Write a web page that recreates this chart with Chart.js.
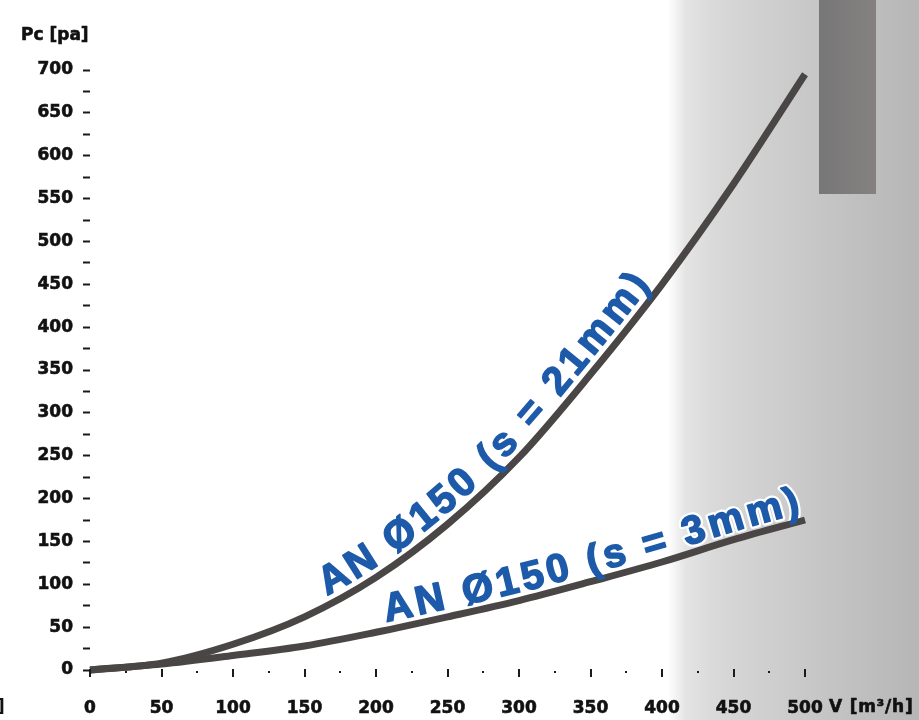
<!DOCTYPE html>
<html><head><meta charset="utf-8">
<script src="https://cdn.jsdelivr.net/npm/chart.js@4.4.0/dist/chart.umd.min.js"></script>
<style>html,body{margin:0;padding:0;background:#fff;overflow:hidden}</style></head>
<body><canvas id="c" width="919" height="720"></canvas>
<script>
// ---- data ----
const flowV = [0, 50, 100, 150, 200, 250, 300, 350, 400, 450, 500];      // V [m³/h]
const pcS21 = [0, 8, 30, 62, 108, 170, 248, 345, 450, 567, 695];         // AN Ø150 (s = 21mm)
const pcS3  = [0, 7, 17, 28, 44, 62, 81, 103, 126, 152, 175];            // AN Ø150 (s = 3mm)
const seriesNames = ['AN Ø150 (s = 21mm)', 'AN Ø150 (s = 3mm)'];
const labelStartV = [167, 208];     // where each curve label begins along its curve
const xTitle = 'V [m³/h]';
const yTitle = 'Pc [pa]';
const xMax = 500, yMax = 700, minorStep = 25, majorStep = 50;

const tickFont = {family: '"DejaVu Sans"', size: 17, weight: 'bold'};
const lineColor = '#4a4646';
const textBlue = '#1d5aa9';

function bezierPolyline(meta) {
  const pts = meta.data, out = [];
  for (let i = 0; i < pts.length - 1; i++) {
    const a = pts[i], b = pts[i + 1];
    const c1x = a.cp2x ?? a.x, c1y = a.cp2y ?? a.y, c2x = b.cp1x ?? b.x, c2y = b.cp1y ?? b.y;
    for (let k = 0; k < 24; k++) {
      const t = k / 24, u = 1 - t;
      out.push({
        x: u*u*u*a.x + 3*u*u*t*c1x + 3*u*t*t*c2x + t*t*t*b.x,
        y: u*u*u*a.y + 3*u*u*t*c1y + 3*u*t*t*c2y + t*t*t*b.y
      });
    }
  }
  const l = pts[pts.length - 1]; out.push({x: l.x, y: l.y});
  let s = 0; out[0].s = 0;
  for (let i = 1; i < out.length; i++) { s += Math.hypot(out[i].x - out[i-1].x, out[i].y - out[i-1].y); out[i].s = s; }
  return out;
}
function pointAt(poly, s) {
  if (s <= 0) return poly[0];
  for (let i = 1; i < poly.length; i++) {
    if (poly[i].s >= s) {
      const a = poly[i-1], b = poly[i], t = (s - a.s) / ((b.s - a.s) || 1);
      return {x: a.x + (b.x - a.x) * t, y: a.y + (b.y - a.y) * t};
    }
  }
  const a = poly[poly.length-2], b = poly[poly.length-1];
  const ex = s - b.s, L = Math.hypot(b.x-a.x, b.y-a.y) || 1;
  return {x: b.x + (b.x-a.x)/L*ex, y: b.y + (b.y-a.y)/L*ex};
}

const LABEL_FONT = 'bold 40px "Liberation Sans"';
function layoutGlyphs(chart) {
  const ctx = chart.ctx, xs = chart.scales.x;
  const offsets = [9, 8], spacing = 4, glyphs = [];
  ctx.save();
  ctx.font = LABEL_FONT;
  chart.data.datasets.forEach((ds, di) => {
    const poly = bezierPolyline(chart.getDatasetMeta(di));
    const sx = xs.getPixelForValue(labelStartV[di]);
    let cursor = 0;
    for (const p of poly) { if (p.x >= sx) { cursor = p.s; break; } }
    for (const ch of seriesNames[di]) {
      const w = ctx.measureText(ch).width;
      const mid = cursor + w / 2;
      const p = pointAt(poly, mid), p0 = pointAt(poly, mid - 10), p1 = pointAt(poly, mid + 10);
      const a = Math.atan2(p1.y - p0.y, p1.x - p0.x);
      glyphs.push({ch, x: p.x + Math.sin(a) * offsets[di], y: p.y - Math.cos(a) * offsets[di], a});
      cursor += w + spacing;
    }
  });
  ctx.restore();
  return glyphs;
}
function drawGlyphs(ctx, glyphs, mode) {
  ctx.save();
  ctx.font = LABEL_FONT;
  ctx.textAlign = 'center';
  ctx.textBaseline = 'alphabetic';
  ctx.lineJoin = 'round';
  if (mode === 'halo') { ctx.strokeStyle = '#fff'; ctx.lineWidth = 6; }
  else { ctx.fillStyle = textBlue; ctx.strokeStyle = textBlue; ctx.lineWidth = 1.6; }
  for (const g of glyphs) {
    ctx.save(); ctx.translate(g.x, g.y); ctx.rotate(g.a);
    if (mode !== 'halo') ctx.fillText(g.ch, 0, 0);
    ctx.strokeText(g.ch, 0, 0);
    ctx.restore();
  }
  ctx.restore();
}

const decor = {
  id: 'decor',
  beforeDraw(chart) {
    const ctx = chart.ctx, W = chart.width, H = chart.height;
    ctx.save();
    ctx.fillStyle = '#fff'; ctx.fillRect(0, 0, W, H);
    const g = ctx.createLinearGradient(668, 0, W, 0);
    g.addColorStop(0, 'rgba(255,255,255,1)');
    g.addColorStop(0.07, '#e4e4e4');
    g.addColorStop(0.2, '#d8d8d8');
    g.addColorStop(0.6, '#c6c6c6');
    g.addColorStop(1, '#b6b6b6');
    ctx.fillStyle = g; ctx.fillRect(668, 0, W - 668, H);
    const r = ctx.createLinearGradient(819, 0, 876, 0);
    r.addColorStop(0, '#777777'); r.addColorStop(1, '#858181');
    ctx.fillStyle = r; ctx.fillRect(819, 0, 57, 194);
    ctx.restore();
  },
  beforeDatasetsDraw(chart) {
    chart.$labelGlyphs = layoutGlyphs(chart);
    drawGlyphs(chart.ctx, chart.$labelGlyphs, 'halo');
  },
  afterDraw(chart) {
    const ctx = chart.ctx;
    const xs = chart.scales.x, ys = chart.scales.y;
    ctx.save();
    // x axis tick marks: lines at majors, dots at minors
    ctx.fillStyle = '#1a1a1a';
    for (const t of xs.ticks) {
      const px = Math.round(xs.getPixelForValue(t.value));
      if (t.value % majorStep === 0) ctx.fillRect(px - 1, ys.bottom - 1, 2, 8);
      else ctx.fillRect(px - 1, ys.bottom + 1, 2, 2);
    }
    ctx.fillStyle = '#111';
    ctx.strokeStyle = '#111';
    ctx.lineWidth = 0.6;
    ctx.font = 'bold 17px "DejaVu Sans"';
    ctx.textBaseline = 'middle';
    ctx.textAlign = 'left';
    ctx.fillText(yTitle, 21, 36); ctx.strokeText(yTitle, 21, 36);
    ctx.fillText(']', -3, 708);
    ctx.letterSpacing = '0.8px';
    ctx.fillText(xTitle, 829, 708); ctx.strokeText(xTitle, 829, 708);
    ctx.letterSpacing = '0px';
    ctx.restore();
    drawGlyphs(ctx, chart.$labelGlyphs || layoutGlyphs(chart), 'fill');
  }
};

const toPts = arr => flowV.map((v, i) => ({x: v, y: arr[i]}));

new Chart(document.getElementById('c'), {
  type: 'line',
  data: {
    datasets: [
      {label: seriesNames[0], data: toPts(pcS21), borderColor: lineColor, borderWidth: 7, pointRadius: 0,
       cubicInterpolationMode: 'monotone', fill: false, clip: 12, borderCapStyle: 'butt'},
      {label: seriesNames[1], data: toPts(pcS3), borderColor: lineColor, borderWidth: 7, pointRadius: 0,
       cubicInterpolationMode: 'monotone', fill: false, clip: 12, borderCapStyle: 'butt'}
    ]
  },
  options: {
    responsive: false, animation: false, devicePixelRatio: 1,
    layout: {padding: {top: 70, right: 114, bottom: 0, left: 0}},
    plugins: {legend: {display: false}, tooltip: {enabled: false}},
    scales: {
      x: {
        type: 'linear', min: 0, max: xMax,
        border: {display: false},
        grid: {display: false, drawOnChartArea: false, drawTicks: false},
        ticks: {stepSize: minorStep, autoSkip: false, maxRotation: 0, padding: 28, color: '#111', font: tickFont,
                textStrokeColor: '#111', textStrokeWidth: 0.6,
                callback: v => v % majorStep === 0 ? String(v) : ''},
        afterFit: s => { s.height = 50; }
      },
      y: {
        min: 0, max: yMax,
        border: {display: false},
        grid: {display: true, drawOnChartArea: false, drawTicks: true, tickLength: 7, tickWidth: 2, tickColor: '#1a1a1a'},
        ticks: {stepSize: minorStep, autoSkip: false, padding: 10, color: '#111', font: tickFont,
                textStrokeColor: '#111', textStrokeWidth: 0.6,
                callback: v => v % majorStep === 0 ? String(v) : ''},
        afterFit: s => { s.width = 90; }
      }
    }
  },
  plugins: [decor]
});
</script>
</body></html>
